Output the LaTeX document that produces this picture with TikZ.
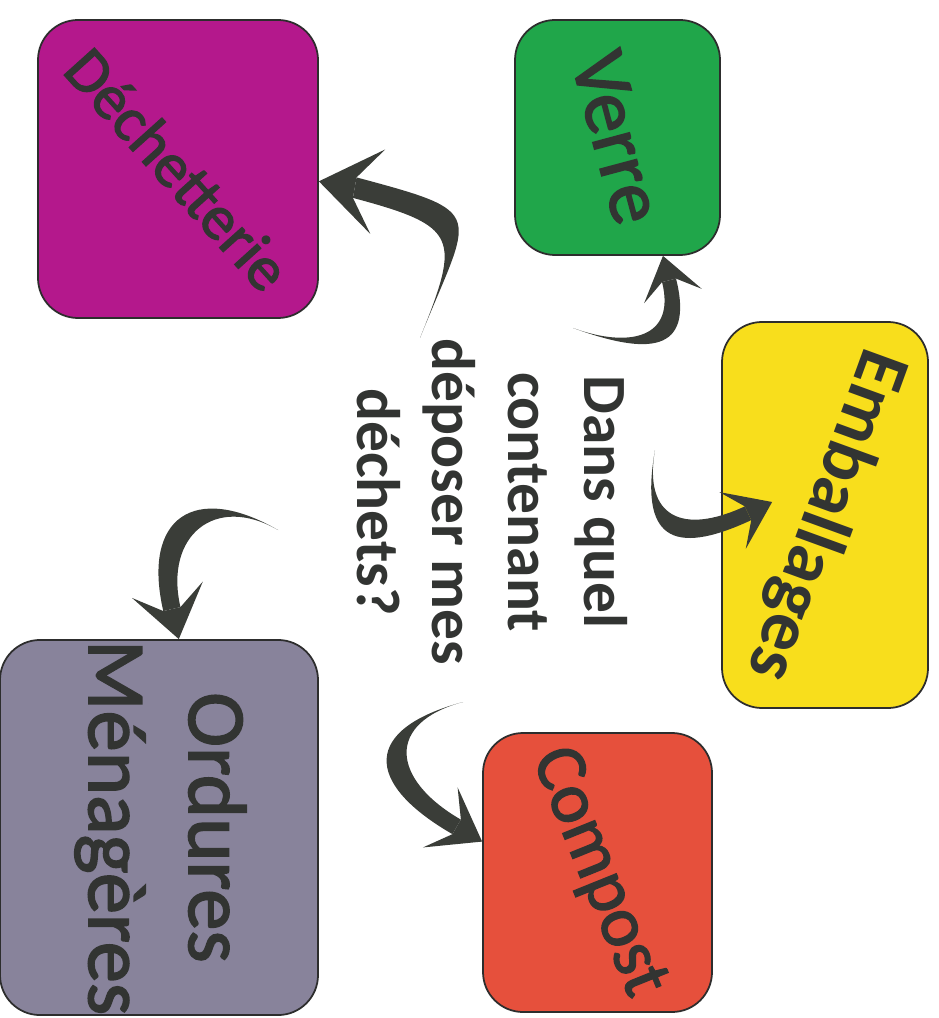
\documentclass[tikz,border=0pt]{standalone}
\usepackage{fontspec}
\setmainfont{Carlito}
\newfontfamily\binfont[FakeBold=2]{Carlito}
\usetikzlibrary{positioning}
\definecolor{dechcol}{RGB}{180,24,140}
\definecolor{verrecol}{RGB}{32,166,74}
\definecolor{embcol}{RGB}{248,222,28}
\definecolor{compcol}{RGB}{230,80,60}
\definecolor{ordcol}{RGB}{136,131,155}
\definecolor{edgecol}{RGB}{45,45,45}
\definecolor{inkcol}{RGB}{50,52,50}
\definecolor{arrowcol}{RGB}{58,61,56}
\tikzset{
  bin/.style={draw=edgecol, line width=1pt, rounded corners=8mm,
    inner sep=0pt, text=inkcol},
  toss/.style={fill=arrowcol, draw=none},
  tosshead/.pic={
    \fill [arrowcol] (0,0) -- (-46,33) -- (-28,8) -- (-28,-8) -- (-46,-33) -- cycle;
    \coordinate (-l) at (-28,8);
    \coordinate (-r) at (-28,-8);
  }
}

\begin{document}
\begin{tikzpicture}[x=0.2mm,y=0.2mm]
  \useasboundingbox (0,0) rectangle (938,-1018);
  % bins
  \node (dech) [bin, fill=dechcol, minimum width=56mm, minimum height=59.6mm,
    font=\binfont\fontsize{36}{43}\selectfont] at (178,-169) {\rotatebox{-48}{Déchetterie}};
  \node (verre) [bin, fill=verrecol, minimum width=41mm, minimum height=47mm,
    font=\binfont\fontsize{45}{54}\selectfont] at (617.5,-137.5) {\rotatebox{-75}{Verre}};
  \node (emb) [bin, fill=embcol, minimum width=41.2mm, minimum height=77.2mm,
    font=\bfseries\fontsize{42}{50}\selectfont] at (825,-515) {\rotatebox{-110}{Emballages}};
  \node (comp) [bin, fill=compcol, minimum width=45.8mm, minimum height=55.8mm,
    font=\binfont\fontsize{41}{49}\selectfont] at (597.5,-872.5) {\rotatebox{-68}{Compost}};
  \node (ord) [bin, fill=ordcol, minimum width=63.6mm, minimum height=75mm,
    font=\binfont\fontsize{47}{57}\selectfont] at (159,-827.5)
    {\rotatebox{-90}{\begin{tabular}{@{}c@{}}Ordures\\Ménagères\end{tabular}}};
  % question
  \node (ask) [rotate=-90, align=center, inner sep=0pt, text=inkcol,
    font=\bfseries\fontsize{35}{43}\selectfont] at (492,-502)
    {Dans quel\\contenant\\déposer mes\\déchets?};
  % arrow tails
  \coordinate (tdech) at (420,-338);
  \coordinate (tverre) at (573,-328);
  \coordinate (temb) at (655,-450);
  \coordinate (tcomp) at (463,-702);
  \coordinate (tord) at (278,-530);
  % arrow heads
  \pic (hdech) [rotate=170, scale=1.3] at (dech.-5) {tosshead};
  \pic (hverre) [rotate=104, scale=0.9] at (verre.-69) {tosshead};
  \pic (hemb) [rotate=25, scale=0.95] at ([shift={(51,13)}]emb.west) {tosshead};
  \pic (hcomp) [rotate=-30, scale=1.05] at (comp.165) {tosshead};
  \pic (hord) [rotate=-77, scale=1.1] at (ord.84) {tosshead};
  % tapered stems: outer edge out, inner edge back
  \fill [toss] (tdech) to [out=68, in=345, looseness=2.05] (hdech-r)
    -- (hdech-l) to [out=345, in=68, looseness=1.8] (tdech) -- cycle;
  \fill [toss] (tverre) to [out=-20, in=284, looseness=1.75] (hverre-r)
    -- (hverre-l) to [out=284, in=-20, looseness=1.5] (tverre) -- cycle;
  \fill [toss] (temb) to [out=-100, in=205, looseness=1.9] (hemb-r)
    -- (hemb-l) to [out=205, in=-100, looseness=1.65] (temb) -- cycle;
  \fill [toss] (tcomp) to [out=195, in=150, looseness=2] (hcomp-r)
    -- (hcomp-l) to [out=150, in=195, looseness=1.75] (tcomp) -- cycle;
  \fill [toss] (tord) to [out=150, in=103, looseness=1.75] (hord-r)
    -- (hord-l) to [out=103, in=150, looseness=1.5] (tord) -- cycle;
\end{tikzpicture}
\end{document}
